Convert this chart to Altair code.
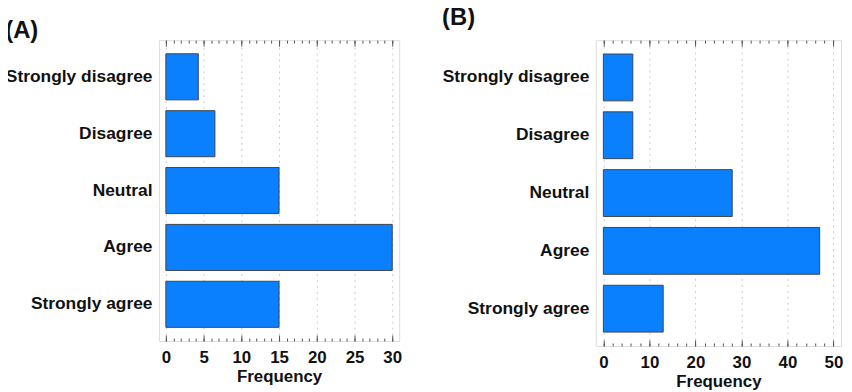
import altair as alt
import pandas as pd

categories = ["Strongly disagree", "Disagree", "Neutral", "Agree", "Strongly agree"]
freq_a = [4.3, 6.5, 15, 30, 15]
freq_b = [6.4, 6.4, 28, 47, 13]

ticks_a = [0, 5, 10, 15, 20, 25, 30]
minor_a = list(range(0, 31, 1))
domain_a = [-0.92, 30.92]
ticks_b = [0, 10, 20, 30, 40, 50]
minor_b = list(range(0, 51, 2))
domain_b = [-1.65, 51.65]

FONT = "Liberation Sans"
FILL = "#0A80FF"
EDGE = "#3c4650"
FRAME = "#555555"
TXT = "#111111"


def panel(values, ticks, minor, domain, title_text, title_offset, width, height):
    df = pd.DataFrame({"Category": categories, "Frequency": values})
    base = alt.Chart(df)
    xscale = alt.Scale(domain=domain, nice=False, zero=False)
    y_enc = alt.Y("Category:N", sort=categories,
                  scale=alt.Scale(paddingInner=0.19, paddingOuter=0.24),
                  axis=alt.Axis(title=None, ticks=False, domain=False,
                                labelFont=FONT, labelFontSize=17.5, labelFontWeight="bold",
                                labelColor=TXT, labelPadding=7))

    bars = base.mark_bar(fill=FILL, stroke=EDGE, strokeWidth=1).encode(
        x=alt.X("Frequency:Q", scale=xscale,
                axis=alt.Axis(orient="bottom", values=ticks, title="Frequency",
                              labelFont=FONT, labelFontSize=17, labelFontWeight="bold",
                              labelColor=TXT, labelPadding=9,
                              titleFont=FONT, titleFontSize=17, titleFontWeight="bold",
                              titleColor=TXT, titlePadding=3,
                              ticks=False, domain=False, grid=True,
                              gridColor="#cccccc", gridDash=[2, 4], gridWidth=1)),
        y=y_enc,
    )

    def tick_layer(orient, vals, size):
        return base.mark_bar(opacity=0).encode(
            x=alt.X("Frequency:Q", scale=xscale,
                    axis=alt.Axis(orient=orient, values=vals, labels=False, title=None,
                                  domain=False, grid=False, ticks=True,
                                  tickSize=size, tickColor=FRAME, tickWidth=1,
                                  offset=-size)),
            y=y_enc,
        )

    layers = [bars,
              tick_layer("bottom", ticks, 6),
              tick_layer("bottom", minor, 3),
              tick_layer("top", ticks, 6),
              tick_layer("top", minor, 3)]

    return alt.layer(*layers).resolve_axis(x="independent").properties(
        width=width, height=height,
        title=alt.TitleParams(text=title_text, anchor="start", frame="bounds",
                              font=FONT, fontSize=24, fontWeight="bold",
                              color=TXT, offset=title_offset, lineHeight=4),
    )


chart_a = panel(freq_a, ticks_a, minor_a, domain_a, ["", "(A)"], -3, 242, 303)
chart_b = panel(freq_b, ticks_b, minor_b, domain_b, "(B)", 10, 247, 308)

chart = alt.concat(chart_a, chart_b, columns=2, spacing=39, align="none").properties(
    padding={"top": -4, "left": -4, "bottom": 0, "right": 0}
).configure_view(
    stroke=FRAME, strokeWidth=1
).configure(background="white")

chart.save("out.html", embed_options={"renderer": "svg", "actions": False})
